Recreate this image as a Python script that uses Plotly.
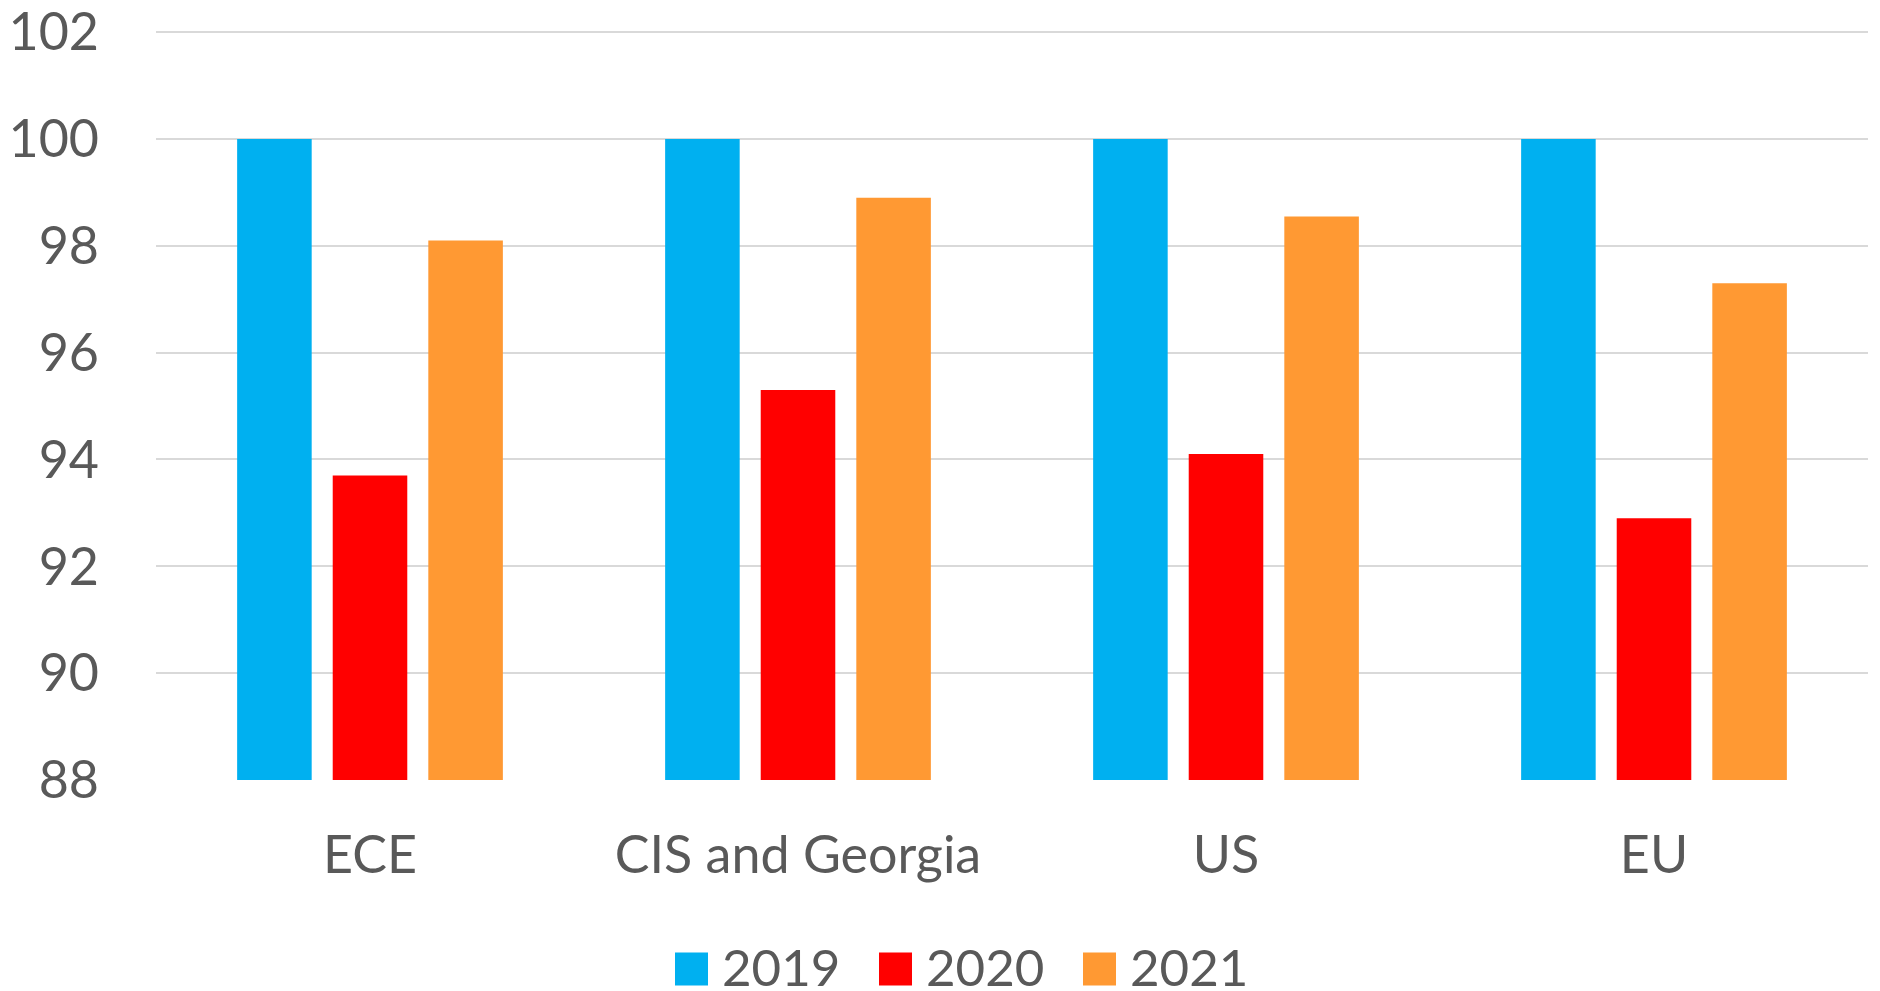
import plotly.graph_objects as go

categories = ["ECE", "CIS and Georgia", "US", "EU"]
years = ["2019", "2020", "2021"]
values_2019 = [100, 100, 100, 100]
values_2020 = [93.7, 95.3, 94.1, 92.9]
values_2021 = [98.1, 98.9, 98.55, 97.3]
colors = ["#00B0F0", "#FF0000", "#FF9933"]
y_ticks = [88, 90, 92, 94, 96, 98, 100, 102]

series = [values_2019, values_2020, values_2021]

W, H = 1880, 991
ML, MR, MT, MB = 156, 12, 31, 211
FONT = "Lato"
TXT = "#595959"

fig = go.Figure()
for name, vals, col in zip(years, series, colors):
    fig.add_trace(go.Bar(x=categories, y=vals, name=name,
                         marker=dict(color=col, line=dict(width=0)),
                         showlegend=False))

# custom legend (large square swatches like the original)
pw = W - ML - MR
ph = H - MT - MB
def px_x(p):
    return (p - ML) / pw
def px_y(p):
    return (H - MB - p) / ph

leg_start = 675
leg_step = 204
sw = 33
cy = 966
for i, (name, col) in enumerate(zip(years, colors)):
    x0 = leg_start + i * leg_step
    fig.add_shape(type="rect", xref="paper", yref="paper",
                  x0=px_x(x0), x1=px_x(x0 + sw),
                  y0=px_y(cy + 3 + sw / 2), y1=px_y(cy + 3 - sw / 2),
                  fillcolor=col, line=dict(width=0), layer="above")
    fig.add_annotation(xref="paper", yref="paper", x=px_x(x0 + sw + 12),
                       y=px_y(cy), xanchor="left", yanchor="middle",
                       text=name, showarrow=False,
                       font=dict(family=FONT, size=51, color=TXT))

fig.update_layout(
    width=W, height=H,
    margin=dict(l=ML, r=MR, t=MT, b=MB, pad=0, autoexpand=False),
    paper_bgcolor="white", plot_bgcolor="white",
    barmode="group", bargap=0.33, bargroupgap=0.22,
    font=dict(family=FONT, size=52, color=TXT),
)
fig.update_yaxes(range=[88, 102.02], tickvals=y_ticks,
                 ticktext=[str(t) for t in y_ticks],
                 showgrid=True, gridcolor="#D9D9D9", gridwidth=2,
                 zeroline=False, showline=False, ticks="",
                 automargin=False,
                 ticklabelstandoff=56, ticklabeloverflow="allow",
                 tickfont=dict(family=FONT, size=52, color=TXT))
fig.update_xaxes(showgrid=False, showline=False, zeroline=False, ticks="",
                 automargin=False,
                 ticklabelstandoff=40,
                 tickfont=dict(family=FONT, size=52, color=TXT))

fig.write_html("out.html", config={"displayModeBar": False},
               post_script="document.body.style.margin='0';document.body.style.padding='0';")
